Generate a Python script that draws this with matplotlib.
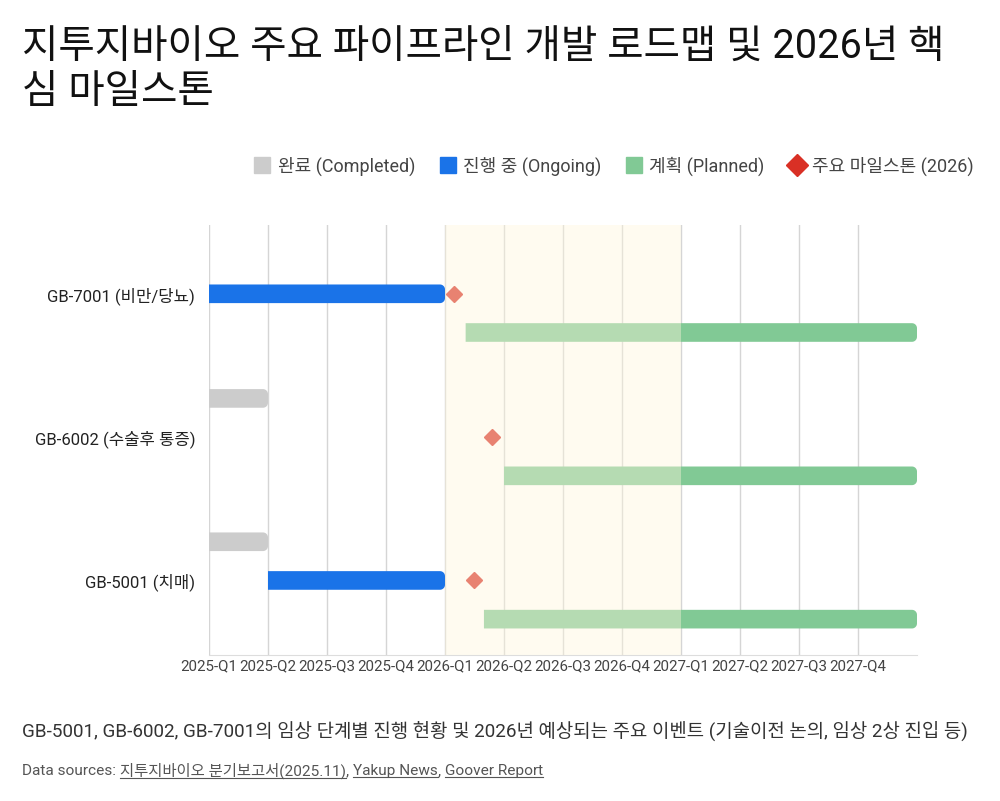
import numpy as np
import matplotlib
matplotlib.use('Agg')
import matplotlib.pyplot as plt
from matplotlib.lines import Line2D

plt.rcParams['font.family'] = ['Roboto', 'Noto Sans CJK KR', 'DejaVu Sans']

# 데이터
quarters = ['2025-Q1', '2025-Q2', '2025-Q3', '2025-Q4',
            '2026-Q1', '2026-Q2', '2026-Q3', '2026-Q4',
            '2027-Q1', '2027-Q2', '2027-Q3', '2027-Q4']
drugs = ['GB-5001 (치매)', 'GB-6002 (수술후 통증)', 'GB-7001 (비만/당뇨)']
# 분기 인덱스 단위 (0 = 2025-Q1 시작)
completed = [(0, 1), (0, 1), None]
ongoing = [(1, 4), None, (0, 4)]
planned = [(4.66, 12), (5.0, 12), (4.35, 12)]
milestone = [4.5, 4.8, 4.15]

c_done, c_ing, c_plan, c_mile = '#cccccc', '#1a73e8', '#81c995', '#d93025'

fig = plt.figure(figsize=(10, 8.01), dpi=100)
ax = fig.add_axes([0.209, 0.1823, 0.708, 0.5368])

off = 0.27
h = 0.13
# 오른쪽만 둥근 막대: 반지름 5px을 데이터 단위로
rx, ry = 5 / 59, 5 / 143
th = np.linspace(0, np.pi / 2, 10)


def rbar(y, s, e, color):
    y0, y1 = y - h / 2, y + h / 2
    xs = [s, e - rx] + list(e - rx + rx * np.sin(th)) + list(e - rx + rx * np.cos(th)) + [e - rx, s]
    ys = [y0, y0] + list(y0 + ry - ry * np.cos(th)) + list(y1 - ry + ry * np.sin(th)) + [y1, y1]
    ax.fill(xs, ys, fc=color, ec='none', zorder=3)


for i in range(len(drugs)):
    if completed[i]:
        rbar(i + off, *completed[i], c_done)
    if ongoing[i]:
        rbar(i, *ongoing[i], c_ing)
    rbar(i - off, *planned[i], c_plan)
    ax.plot(milestone[i], i, marker='D', ms=8.5, color=c_mile, zorder=4, ls='none')

# 2026 강조 구간 (막대 위에 반투명)
ax.axvspan(4, 8, color='#fff6dc', alpha=0.42, zorder=5, lw=0)

ax.set_xlim(0, 12)
ax.set_ylim(-0.52, 2.48)
ax.set_xticks(range(12))
ax.set_xticklabels(quarters, fontsize=10.9, color='#444444')
ax.set_yticks(range(len(drugs)))
ax.set_yticklabels(drugs, fontsize=12, color='#222222')
ax.tick_params(length=0, pad=3)
ax.tick_params(axis='y', pad=10)
ax.grid(axis='x', color='#d5d5d5', lw=1, zorder=1)
for sp in ['top', 'right', 'left']:
    ax.spines[sp].set_visible(False)
ax.spines['bottom'].set_color('#dddddd')

fig.text(0.022, 0.966, '지투지바이오 주요 파이프라인 개발 로드맵 및 2026년 핵\n심 마일스톤',
         fontsize=28.5, color='#111111', va='top', linespacing=1.2)

handles = [
    Line2D([], [], marker='s', ls='none', ms=11, color=c_done),
    Line2D([], [], marker='s', ls='none', ms=11, color=c_ing),
    Line2D([], [], marker='s', ls='none', ms=11, color=c_plan),
    Line2D([], [], marker='D', ms=11, ls='none', color=c_mile),
]
labels = ['완료 (Completed)', '진행 중 (Ongoing)', '계획 (Planned)', '주요 마일스톤 (2026)']
fig.legend(handles, labels, loc='center right', bbox_to_anchor=(0.99, 0.793), ncol=4,
           frameon=False, fontsize=13, handletextpad=0.35, columnspacing=1.3,
           handlelength=1.0, labelcolor='#444444')

fig.text(0.022, 0.087, 'GB-5001, GB-6002, GB-7001의 임상 단계별 진행 현황 및 2026년 예상되는 주요 이벤트 (기술이전 논의, 임상 2상 진입 등)',
         fontsize=13.6, color='#333333', va='center')

# 출처 (밑줄)
renderer = fig.canvas.get_renderer()
pieces = [('Data sources: ', False), ('지투지바이오 분기보고서(2025.11)', True), (', ', False),
          ('Yakup News', True), (', ', False), ('Goover Report', True)]
x = 22
y = 801 - 771
for txt, ul in pieces:
    t = fig.text(x / 1000, y / 801, txt.rstrip(), fontsize=11.1, color='#555555', va='center')
    bb = t.get_window_extent(renderer)
    if ul:
        fig.add_artist(Line2D([bb.x0 / 1000, bb.x1 / 1000], [(bb.y0 + 1) / 801] * 2,
                              color='#555555', lw=0.8))
    x = bb.x1 + (4 if txt.endswith(' ') else 0)

fig.savefig('out.png', dpi=100)
